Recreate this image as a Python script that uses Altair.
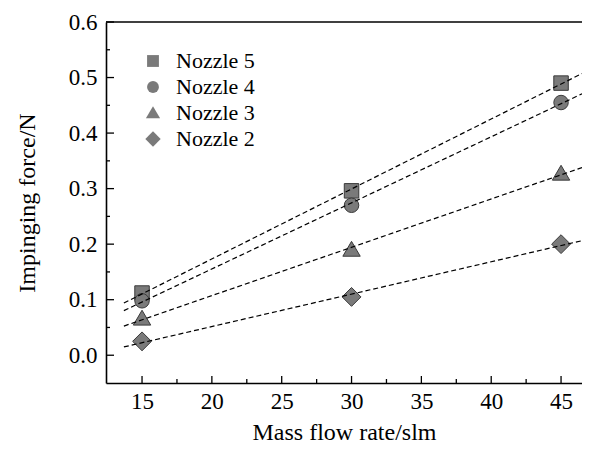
import altair as alt
import pandas as pd

flow = [15, 30, 45]
nozzles = ["Nozzle 5", "Nozzle 4", "Nozzle 3", "Nozzle 2"]
force_n5 = [0.112, 0.296, 0.490]
force_n4 = [0.098, 0.270, 0.455]
force_n3 = [0.066, 0.190, 0.327]
force_n2 = [0.025, 0.105, 0.200]
shapes = [
    "M-1,-1L1,-1L1,1L-1,1Z",
    "circle",
    "M0,-1.15L1.2,0.9L-1.2,0.9Z",
    "M0,-1.3L1.3,0L0,1.3L-1.3,0Z",
]

x_major = [15, 20, 25, 30, 35, 40, 45]
x_minor = [17.5, 22.5, 27.5, 32.5, 37.5, 42.5]
y_major = [0.0, 0.1, 0.2, 0.3, 0.4, 0.5, 0.6]
y_minor = [0.05, 0.15, 0.25, 0.35, 0.45, 0.55]

rows = []
for name, vals in zip(nozzles, [force_n5, force_n4, force_n3, force_n2]):
    for f, v in zip(flow, vals):
        rows.append({"flow": f, "force": v, "nozzle": name})
df = pd.DataFrame(rows)

W, H = 476, 361
FONT = "Liberation Serif, Times New Roman, DejaVu Serif, serif"

xscale = alt.Scale(domain=[12.42, 46.5], nice=False, zero=False)
yscale = alt.Scale(domain=[-0.05, 0.6], nice=False, zero=False)

base = alt.Chart(df)

points = base.mark_point(filled=True, fill="#7a7a7a", stroke="#3a3a3a", strokeWidth=1,
                         opacity=1, size=210).encode(
    x=alt.X("flow:Q", scale=xscale, title="Mass flow rate/slm",
            axis=alt.Axis(values=x_major, format="d", ticks=False, tickSize=0, grid=False,
                          domainColor="black", domainWidth=1.6, labelPadding=7,
                          titlePadding=7)),
    y=alt.Y("force:Q", scale=yscale, title="Impinging force/N",
            axis=alt.Axis(values=y_major, format=".1f", ticks=False, tickSize=0, grid=False,
                          domainColor="black", domainWidth=1.6, labelPadding=9,
                          titlePadding=29)),
    shape=alt.Shape("nozzle:N", scale=alt.Scale(domain=nozzles, range=shapes),
                    legend=alt.Legend(title=None, orient="none", legendX=36, legendY=28,
                                      symbolSize=140, symbolFillColor="#7a7a7a",
                                      symbolStrokeColor="#3a3a3a", symbolStrokeWidth=1,
                                      labelFont=FONT, labelFontSize=22, labelColor="black",
                                      labelOffset=12, rowPadding=4, labelLimit=300)),
)

lines = base.transform_regression(
    "flow", "force", groupby=["nozzle"], extent=[13.7, 46.5]
).mark_line(color="black", strokeWidth=1.2, strokeDash=[5, 3]).encode(
    x=alt.X("flow:Q"),
    y=alt.Y("force:Q"),
    detail="nozzle:N",
)

top_rule = alt.Chart(pd.DataFrame({"t": [0.6]})).mark_rule(color="black", strokeWidth=1.6).encode(
    y=alt.Y("t:Q"), x=alt.value(0), x2=alt.value(W)
)

xt_major = alt.Chart(pd.DataFrame({"v": x_major})).mark_rule(color="black", strokeWidth=1.3).encode(
    x=alt.X("v:Q"), y=alt.value(H), y2=alt.value(H - 7)
)
xt_minor = alt.Chart(pd.DataFrame({"v": x_minor})).mark_rule(color="black", strokeWidth=1.3).encode(
    x=alt.X("v:Q"), y=alt.value(H), y2=alt.value(H - 4)
)
yt_major = alt.Chart(pd.DataFrame({"v": y_major})).mark_rule(color="black", strokeWidth=1.3).encode(
    y=alt.Y("v:Q"), x=alt.value(0), x2=alt.value(8)
)
yt_minor = alt.Chart(pd.DataFrame({"v": y_minor})).mark_rule(color="black", strokeWidth=1.3).encode(
    y=alt.Y("v:Q"), x=alt.value(0), x2=alt.value(4)
)

chart = alt.layer(points, lines, top_rule, xt_major, xt_minor, yt_major, yt_minor).properties(
    width=W, height=H,
    autosize=alt.AutoSizeParams(type="none"),
    padding={"left": 98, "top": 14, "right": 0, "bottom": 60},
).configure_view(stroke=None).configure_axis(
    labelFont=FONT, labelFontSize=23, labelColor="black",
    titleFont=FONT, titleFontSize=24, titleFontWeight="normal", titleColor="black",
)

chart.save("out.html", embed_options={"renderer": "svg", "actions": False})
